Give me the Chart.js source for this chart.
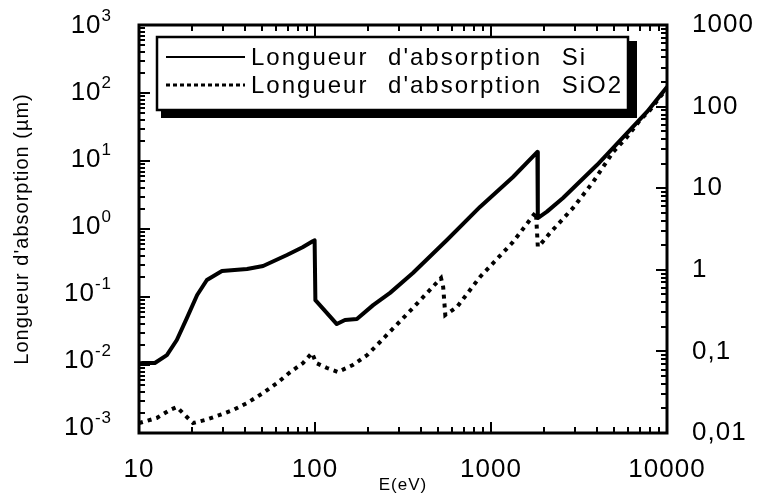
<!DOCTYPE html>
<html><head><meta charset="utf-8">
<script src="https://cdn.jsdelivr.net/npm/chart.js@4/dist/chart.umd.min.js"></script>
<style>html,body{margin:0;padding:0;background:#fff}#c{display:block}</style>
</head><body>
<canvas id="c" width="761" height="496"></canvas>
<script>
// ---- data ----
const siEnergy = [10, 10.5, 12.3, 14.4, 16.4, 18.7, 21.4, 24.3, 29.6, 41.1, 50.7, 69.3, 85, 97, 99.5, 100.5, 117, 133, 148, 173, 214, 267, 360, 562, 866, 1334, 1835, 1845, 2080, 2565, 4000, 6166, 7690, 10000];
const siLength = [0.0105, 0.0107, 0.0107, 0.014, 0.0233, 0.049, 0.107, 0.178, 0.241, 0.258, 0.286, 0.415, 0.54, 0.66, 0.68, 0.09, 0.058, 0.040, 0.046, 0.0475, 0.076, 0.115, 0.225, 0.689, 2.11, 5.82, 13.6, 1.45, 1.8, 2.86, 8.73, 28.6, 52.6, 122];
const sio2Energy = [10, 12.6, 15.0, 16.4, 18.7, 20.3, 23.7, 28.8, 34.2, 41.1, 50.7, 60.9, 71.2, 85.5, 96.1, 101.6, 117, 135, 164, 198, 234, 360, 520, 535, 550, 641, 866, 1334, 1800, 1845, 1897, 2163, 2924, 3802, 4937, 5929, 7030, 8000, 10000];
const sio2Length = [0.0014, 0.00166, 0.00218, 0.00241, 0.00172, 0.0014, 0.00155, 0.00184, 0.00218, 0.00276, 0.00387, 0.00543, 0.00762, 0.0107, 0.015, 0.0107, 0.00903, 0.00789, 0.01, 0.014, 0.0218, 0.0689, 0.19, 0.14, 0.0543, 0.0713, 0.197, 0.644, 1.78, 0.55, 0.582, 0.873, 2.04, 4.91, 13.5, 22.5, 40, 56, 118];
const seriesLabels = ["Longueur d'absorption Si", "Longueur d'absorption SiO2"];
const xTickValues = [10, 100, 1000, 10000];
const xTickLabels = ['10', '100', '1000', '10000'];
const yLeftTickValues = [1e3, 1e2, 1e1, 1e0, 1e-1, 1e-2, 1e-3];
const yLeftExponents = ['3', '2', '1', '0', '-1', '-2', '-3'];
const yRightTickValues = [0.01, 0.1, 1, 10, 100, 1000];
const yRightTickLabels = ['0,01', '0,1', '1', '10', '100', '1000'];
const xTitle = 'E(eV)';
const yTitle = "Longueur d'absorption (µm)";

const FONT = '"Liberation Sans", Arial, Helvetica, sans-serif';
Chart.defaults.font.family = FONT;
Chart.defaults.color = '#000';

function minorValues(lo, hi) {
  const out = [];
  for (let e = Math.round(Math.log10(lo)); e < Math.round(Math.log10(hi)); e++) {
    for (let m = 2; m <= 9; m++) out.push(m * Math.pow(10, e));
  }
  return out;
}

const framePlugin = {
  id: 'frame',
  beforeDraw(chart) { chart.ctx.letterSpacing = '1px'; },
  afterDatasetsDraw(chart) {
    const ctx = chart.ctx, a = chart.chartArea;
    const xs = chart.scales.x, yl = chart.scales.y, yr = chart.scales.y2;
    ctx.save();
    ctx.strokeStyle = '#000';
    ctx.lineWidth = 2;
    const MAJ = 11, MIN = 6;
    const xt = xTickValues.map(v => [v, MAJ]).concat(minorValues(10, 10000).map(v => [v, MIN]));
    xt.forEach(([v, l]) => {
      const p = Math.round(xs.getPixelForValue(v));
      ctx.beginPath();
      ctx.moveTo(p, a.bottom); ctx.lineTo(p, a.bottom - l);
      ctx.moveTo(p, a.top); ctx.lineTo(p, a.top + l);
      ctx.stroke();
    });
    const yt = yLeftTickValues.map(v => [v, MAJ]).concat(minorValues(1e-3, 1e3).map(v => [v, MIN]));
    yt.forEach(([v, l]) => {
      const p = Math.round(yl.getPixelForValue(v));
      ctx.beginPath(); ctx.moveTo(a.left, p); ctx.lineTo(a.left + l, p); ctx.stroke();
    });
    const rt = yRightTickValues.map(v => [v, MAJ]).concat(minorValues(0.01, 1000).map(v => [v, MIN]));
    rt.forEach(([v, l]) => {
      const p = Math.round(yr.getPixelForValue(v));
      ctx.beginPath(); ctx.moveTo(a.right, p); ctx.lineTo(a.right - l, p); ctx.stroke();
    });
    ctx.lineWidth = 3;
    ctx.strokeRect(a.left, a.top, a.right - a.left, a.bottom - a.top);
    ctx.restore();
  },
  afterDraw(chart) {
    const ctx = chart.ctx, yl = chart.scales.y, a = chart.chartArea;
    ctx.save();
    ctx.fillStyle = '#000';
    ctx.letterSpacing = '1px';
    ctx.textBaseline = 'middle';
    const rightEdge = 112;
    yLeftTickValues.forEach((v, i) => {
      const py = yl.getPixelForValue(v);
      const cy = a.top + (py - a.top) * 0.985;
      const ex = yLeftExponents[i];
      ctx.font = '17px ' + FONT;
      const ew = ctx.measureText(ex).width;
      ctx.textAlign = 'left';
      ctx.fillText(ex, rightEdge - ew, cy - 9);
      ctx.font = '26px ' + FONT;
      ctx.textAlign = 'right';
      ctx.fillText('10', rightEdge - ew, cy + 1);
    });
    // legend
    const bx = 157, by = 37, bw = 471, bh = 73;
    ctx.fillStyle = '#000';
    ctx.fillRect(bx + 4, by + 4, bw + 5, bh + 4);
    ctx.fillStyle = '#fff';
    ctx.fillRect(bx, by, bw, bh);
    ctx.strokeStyle = '#000';
    ctx.lineWidth = 2.5;
    ctx.strokeRect(bx, by, bw, bh);
    const ds = chart.data.datasets;
    [57, 85].forEach((ly, i) => {
      ctx.beginPath();
      ctx.lineWidth = i === 0 ? 2 : 3;
      ctx.setLineDash(i === 0 ? [] : [4, 3]);
      ctx.moveTo(166, ly); ctx.lineTo(245, ly); ctx.stroke();
      ctx.setLineDash([]);
      ctx.fillStyle = '#000';
      ctx.font = '24px ' + FONT;
      ctx.letterSpacing = '2px';
      ctx.wordSpacing = '11px';
      ctx.textAlign = 'left';
      ctx.textBaseline = 'middle';
      ctx.fillText(ds[i].label, 251, ly + 1);
    });
    ctx.restore();
  }
};

const ticksFrom = vals => s => { s.ticks = vals.map(v => ({ value: v })); };
const noPad = s => { s.paddingTop = 0; s.paddingBottom = 0; s.paddingLeft = 0; s.paddingRight = 0; };

new Chart(document.getElementById('c').getContext('2d'), {
  type: 'line',
  data: {
    datasets: [
      { label: seriesLabels[0], data: siEnergy.map((x, i) => ({ x, y: siLength[i] })),
        borderColor: '#000', borderWidth: 4, pointRadius: 0, tension: 0, fill: false,
        yAxisID: 'y', borderJoinStyle: 'round', borderCapStyle: 'round' },
      { label: seriesLabels[1], data: sio2Energy.map((x, i) => ({ x, y: sio2Length[i] })),
        borderColor: '#000', borderWidth: 4, pointRadius: 0, tension: 0, fill: false,
        yAxisID: 'y', borderDash: [4, 5], borderCapStyle: 'butt' }
    ]
  },
  options: {
    responsive: false, animation: false, devicePixelRatio: 1,
    layout: { padding: { top: 25, left: 0, right: 0, bottom: 0 } },
    plugins: { legend: { display: false }, tooltip: { enabled: false } },
    scales: {
      x: { type: 'logarithmic', position: 'bottom', min: 10, max: 10000,
        afterBuildTicks: ticksFrom(xTickValues),
        afterFit: s => { s.height = 63; noPad(s); },
        grid: { display: false, drawTicks: false }, border: { display: false },
        ticks: { autoSkip: false, maxRotation: 0, padding: 21, font: { size: 26 }, color: '#000',
          callback: (v, i) => xTickLabels[i] },
        title: { display: true, text: xTitle, font: { size: 17 }, color: '#000', padding: { top: 2, bottom: 0 } } },
      y: { type: 'logarithmic', position: 'left', min: 1e-3, max: 1e3,
        afterBuildTicks: ticksFrom(yLeftTickValues),
        afterFit: s => { s.width = 139; noPad(s); },
        grid: { display: false, drawTicks: false }, border: { display: false },
        ticks: { display: false },
        title: { display: true, text: yTitle, font: { size: 20 }, color: '#000', padding: { top: 10, bottom: 0 } } },
      y2: { type: 'logarithmic', position: 'right', min: 0.01, max: 1000,
        afterBuildTicks: ticksFrom(yRightTickValues),
        afterFit: s => { s.width = 94; noPad(s); },
        grid: { display: false, drawTicks: false }, border: { display: false },
        ticks: { autoSkip: false, padding: 25, font: { size: 26 }, color: '#000',
          callback: (v, i) => yRightTickLabels[i] } }
    }
  },
  plugins: [framePlugin]
});
</script>
</body></html>
